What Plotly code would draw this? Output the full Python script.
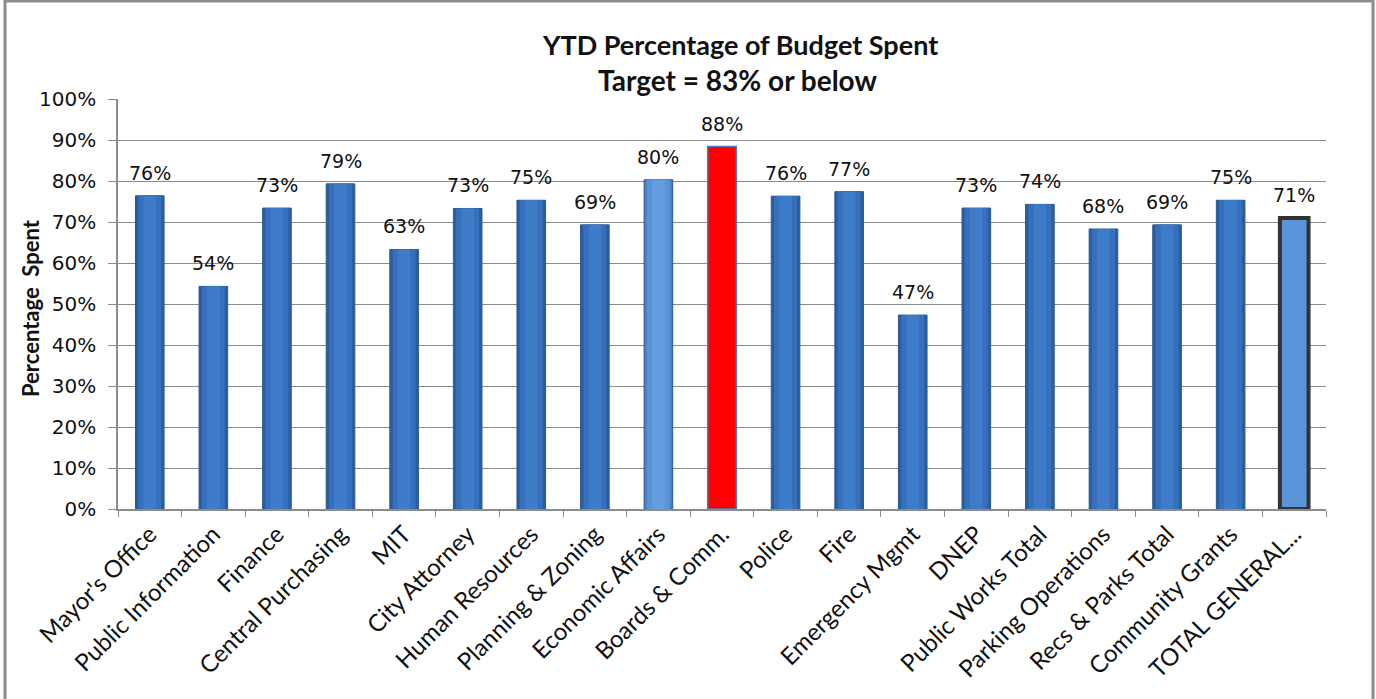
import plotly.graph_objects as go

categories = ["Mayor's Office", "Public Information", "Finance", "Central Purchasing", "MIT",
              "City Attorney", "Human Resources", "Planning & Zoning", "Economic Affairs",
              "Boards & Comm.", "Police", "Fire", "Emergency Mgmt", "DNEP", "Public Works Total",
              "Parking Operations", "Recs & Parks Total", "Community Grants", "TOTAL GENERAL..."]
values = [76.4, 54.3, 73.4, 79.3, 63.3, 73.3, 75.3, 69.3, 80.3, 88.4, 76.3, 77.4, 47.3, 73.4,
          74.3, 68.3, 69.3, 75.3, 71.0]
labels = ["76%", "54%", "73%", "79%", "63%", "73%", "75%", "69%", "80%", "88%", "76%", "77%",
          "47%", "73%", "74%", "68%", "69%", "75%", "71%"]

n = len(categories)
# outer (edge) colour, middle band, centre band
outer = ["#2C5E9E"] * n
mid = ["#3670BC"] * n
centre = ["#3E7BC9"] * n
line_c = ["#2A5896"] * n
line_w = [1] * n
# Economic Affairs: lighter blue
outer[8], mid[8], centre[8] = "#4A80C6", "#5A93D8", "#649EE0"
# Boards & Comm.: flat red
outer[9], mid[9], centre[9] = "#FF0000", "rgba(0,0,0,0)", "rgba(0,0,0,0)"
line_c[9], line_w[9] = "#4A7AB8", 1.5
# TOTAL: flat light blue with heavy dark outline
outer[18], mid[18], centre[18] = "#5A95DC", "rgba(0,0,0,0)", "rgba(0,0,0,0)"
line_c[18], line_w[18] = "#333333", 4

fig = go.Figure()
fig.add_trace(go.Bar(
    x=categories, y=values, width=0.45,
    marker=dict(color=outer, line=dict(color=line_c, width=line_w)),
))
fig.add_trace(go.Bar(
    x=categories, y=values, width=0.36,
    marker=dict(color=mid, line=dict(width=0)),
))
fig.add_trace(go.Bar(
    x=categories, y=values, width=0.2,
    marker=dict(color=centre, line=dict(width=0)),
))

L, R, T, B = 118, 50, 99, 190
W, H = 1376, 699
pw, ph = W - L - R, H - T - B

def px(x):
    return (x - L) / pw

def py(y):
    return (H - B - y) / ph

annotations = [
    dict(x=c, y=v, text=t, xref="x", yref="y", showarrow=False, yanchor="bottom",
         xanchor="center", yshift=10, font=dict(family="DejaVu Sans", size=19, color="#111"))
    for c, v, t in zip(categories, values, labels)
]
annotations += [
    dict(text="<b>YTD Percentage of Budget Spent</b>", xref="paper", yref="paper",
         x=px(740), y=py(44), showarrow=False, xanchor="center", yanchor="middle",
         font=dict(family="Lato", size=27, color="#111")),
    dict(text="<b>Target = 83% or below</b>", xref="paper", yref="paper",
         x=px(737), y=py(80), showarrow=False, xanchor="center", yanchor="middle",
         font=dict(family="Lato", size=28, color="#111")),
    dict(text="<b>Percentage  Spent</b>", xref="paper", yref="paper",
         x=px(30), y=py(308), showarrow=False, xanchor="center", yanchor="middle",
         textangle=-90, font=dict(family="Lato", size=22, color="#111")),
]

fig.update_layout(
    width=W, height=H,
    margin=dict(l=L, r=R, t=T, b=B),
    paper_bgcolor="white", plot_bgcolor="white",
    showlegend=False, barmode="overlay",
    font=dict(family="Lato", color="#111"),
    xaxis=dict(
        tickangle=-45, tickfont=dict(family="Lato", size=24, color="#111"),
        showline=True, linecolor="#8C8C8C", linewidth=1.5,
        ticks="outside", tickson="boundaries", ticklen=6, tickcolor="#8C8C8C",
        showgrid=False,
    ),
    yaxis=dict(
        range=[0, 100], dtick=10, ticksuffix="%",
        tickfont=dict(family="DejaVu Sans", size=20, color="#111"),
        showline=True, linecolor="#8C8C8C", linewidth=1.5,
        ticks="outside", ticklen=8, tickcolor="#8C8C8C",
        ticklabelstandoff=8,
        showgrid=True, gridcolor="#8C8C8C", gridwidth=1,
    ),
    annotations=annotations,
    shapes=[
        dict(type="rect", xref="paper", yref="paper",
             x0=px(5), x1=px(1373), y0=py(710), y1=py(1),
             line=dict(color="#8C8C8C", width=3), fillcolor="rgba(0,0,0,0)", layer="below"),
    ],
)

fig.write_html("out.html")
